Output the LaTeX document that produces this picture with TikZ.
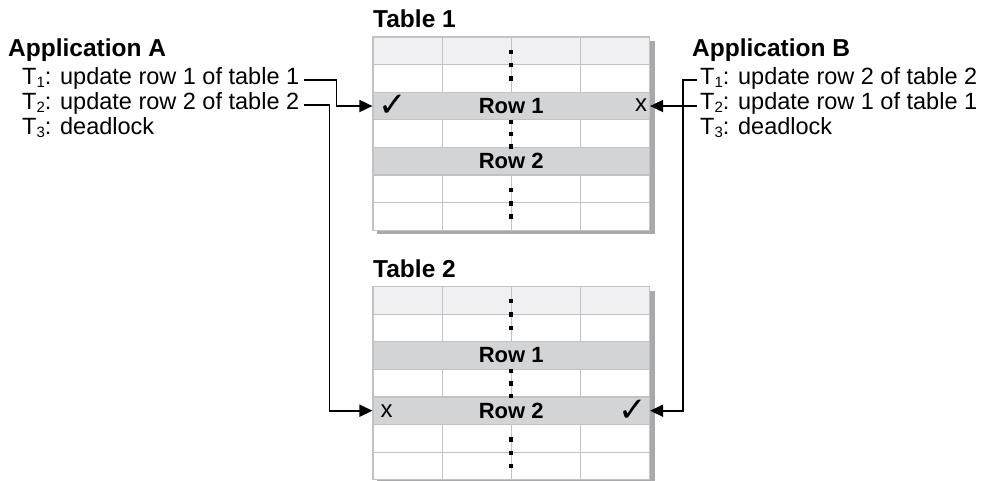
\documentclass[tikz,border=0pt]{standalone}
\usepackage{fontspec}
\setmainfont{Liberation Sans}
\newfontfamily\symfont{DejaVu Sans}
\usetikzlibrary{arrows.meta}
\definecolor{shadowc}{HTML}{A9A9AB}
\definecolor{hdrc}{HTML}{F0F0F2}
\definecolor{rowc}{HTML}{D3D4D6}
\definecolor{gridc}{HTML}{C2C2C4}
\newcommand\sbs[1]{\raisebox{-3.5pt}{\fontsize{15}{15}\selectfont #1}}
\tikzset{
  gridl/.style={draw=gridc, line width=1.2pt},
  rowbox/.style={draw=gridc, line width=1.2pt, fill=rowc, minimum width=276.5pt, minimum height=27.6pt, inner sep=0pt, font=\bfseries\fontsize{22}{24}\selectfont},
  titletxt/.style={anchor=base west, inner sep=0pt, font=\bfseries\fontsize{24.5}{26}\selectfont},
  txt/.style={anchor=base west, inner sep=0pt, font=\fontsize{23.5}{25}\selectfont},
  markc/.style={inner sep=0pt, font=\fontsize{24}{26}\selectfont},
  chk/.style={inner sep=0pt, font=\symfont\fontsize{34}{36}\selectfont},
  arr/.style={line width=1.8pt, -{Triangle[length=13pt,width=12pt]}},
  dotsq/.style={fill=black}
}
% #1 = top y, #2 = name prefix
\newcommand\mydbtable[2]{%
  \fill[shadowc] (377,#1+4) rectangle (654.5,#1+197.2);
  \fill[white] (373,#1) rectangle (649.5,#1+193.2);
  \fill[hdrc] (373,#1) rectangle (649.5,#1+27.6);
  \foreach \i in {1,3,5,6} \draw[gridl] (373,#1+\i*27.6) -- (649.5,#1+\i*27.6);
  \foreach \cx in {442.1,511.25,580.4} {
    \draw[gridl] (\cx,#1) -- (\cx,#1+55.2);
    \draw[gridl] (\cx,#1+82.8) -- (\cx,#1+110.4);
    \draw[gridl] (\cx,#1+138) -- (\cx,#1+193.2);
  }
  \draw[gridl] (373,#1) rectangle (649.5,#1+193.2);
  \node[rowbox] (#2a) at (511.25,#1+2.5*27.6) {Row 1};
  \node[rowbox] (#2b) at (511.25,#1+4.5*27.6) {Row 2};
  \foreach \dy in {14.7,28,41.3,84.7,97,109.3,153,166.3,179.6}
    \fill[dotsq] (509.25,#1+\dy-2.2) rectangle (513.25,#1+\dy+2.2);
}
\begin{document}
\begin{tikzpicture}[x=1pt,y=-1pt]
\useasboundingbox[fill=white] (0,0) rectangle (995,480);

% tables
\node[titletxt] (tt1) at (373,27) {Table 1};
\mydbtable{37}{ta}
\node[titletxt] (tt2) at (373,277) {Table 2};
\mydbtable{286.5}{tb}

% marks
\node[chk] (ck1) at (392.5,106) {✓};
\node[markc] (x1) at (641,105) {x};
\node[markc] (x2) at (386.5,411.5) {x};
\node[chk] (ck2) at (632.5,411) {✓};

% Application A
\node[titletxt] (appA) at (8,56) {Application A};
\node[txt] (a1) at (22,84) {T\sbs{1}: update row 1 of table 1};
\node[txt] (a2) at (22,109) {T\sbs{2}: update row 2 of table 2};
\node[txt] (a3) at (22,134) {T\sbs{3}: deadlock};

% Application B
\node[titletxt] (appB) at (692,56) {Application B};
\node[txt] (b1) at (700,84) {T\sbs{1}: update row 2 of table 2};
\node[txt] (b2) at (700,109) {T\sbs{2}: update row 1 of table 1};
\node[txt] (b3) at (700,134) {T\sbs{3}: deadlock};

% connectors
\draw[arr] ([xshift=5pt,yshift=1pt]a1.mid east) -- ++(32,0) |- (taa.west);
\draw[arr] ([xshift=5pt,yshift=1pt]a2.mid east) -- ++(25,0) |- (tbb.west);
\draw[arr] ([xshift=-3pt,yshift=1pt]b1.mid west) -- ++(-14,0) |- (tbb.east);
\draw[arr] ([xshift=-3pt]b2.west |- taa.east) -- (taa.east);
\end{tikzpicture}
\end{document}
